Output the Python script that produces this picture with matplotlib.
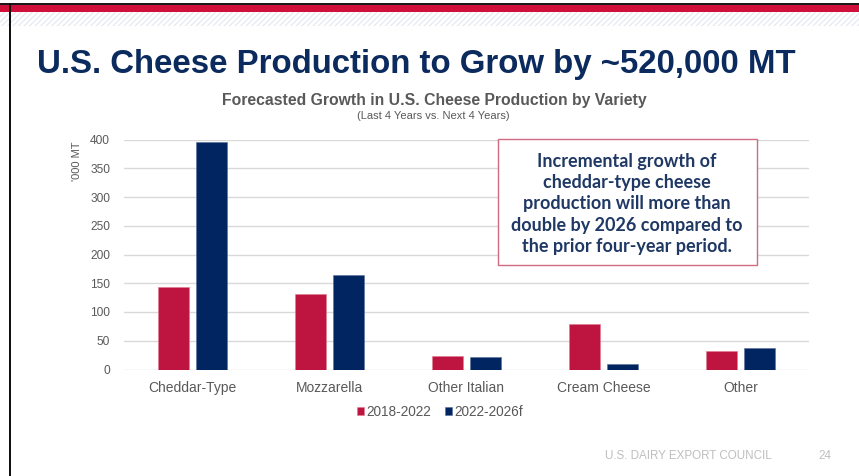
import matplotlib
matplotlib.use("Agg")
import matplotlib.pyplot as plt
from matplotlib.patches import Rectangle
import numpy as np

# Data ('000 MT)
categories = ["Cheddar-Type", "Mozzarella", "Other Italian", "Cream Cheese", "Other"]
growth_2018_2022 = [144, 131, 23, 79, 33]
growth_2022_2026f = [396, 164, 22, 9, 38]
series_labels = ["2018-2022", "2022-2026f"]
yticks = [0, 50, 100, 150, 200, 250, 300, 350, 400]

RED = "#BE1540"
NAVY = "#002560"
GRAY = "#595959"

plt.rcParams["font.family"] = ["Liberation Sans", "DejaVu Sans"]

fig = plt.figure(figsize=(8.59, 4.76), dpi=100)
W, H = 859, 476

def fx(px):
    return px / W

def fy(py):
    return 1 - py / H

# Slide header bands
fig.patches.append(Rectangle((0, fy(5)), 1, fy(3) - fy(5), transform=fig.transFigure,
                             facecolor="#1a1a1a", edgecolor="none", zorder=1))
fig.patches.append(Rectangle((0, fy(12)), 1, fy(5) - fy(12), transform=fig.transFigure,
                             facecolor="#D0103A", edgecolor="none", zorder=1))
plt.rcParams["hatch.linewidth"] = 0.8
fig.patches.append(Rectangle((0, fy(26)), 1, fy(12) - fy(26), transform=fig.transFigure,
                             facecolor="white", edgecolor="#e3e7ee", hatch="//////",
                             linewidth=0, zorder=1))
# Left border
fig.patches.append(Rectangle((fx(9), 0), fx(2), fy(3), transform=fig.transFigure,
                             facecolor="#111111", edgecolor="none", zorder=2))

# Titles
fig.text(fx(37), fy(65), "U.S. Cheese Production to Grow by ~520,000 MT",
         fontsize=23.8, fontweight="bold", color="#0B2A5E", ha="left", va="center")
fig.text(fx(434), fy(101), "Forecasted Growth in U.S. Cheese Production by Variety",
         fontsize=11.3, fontweight="bold", color=GRAY, ha="center", va="center")
fig.text(fx(433), fy(116), "(Last 4 Years vs. Next 4 Years)",
         fontsize=8.0, color=GRAY, ha="center", va="center")

# Chart
ax = fig.add_axes([fx(124), fy(369.5), fx(809) - fx(124), (369.5 - 139.5) / H])
x = np.arange(len(categories))
bw = 0.226
off = 0.142
ax.bar(x - off, growth_2018_2022, bw, color=RED, edgecolor="#e07a92", linewidth=0.4,
       label=series_labels[0], zorder=3)
ax.bar(x + off, growth_2022_2026f, bw, color=NAVY, edgecolor="#5a6f96", linewidth=0.4,
       label=series_labels[1], zorder=3)

ax.set_xlim(-0.5, len(categories) - 0.5)
ax.set_ylim(0, 400)
ax.set_yticks(yticks)
ax.set_xticks(x)
ax.set_xticklabels(categories)
ax.yaxis.grid(True, color="#d9d9d9", linewidth=1.0, zorder=0)
ax.set_axisbelow(True)
for s in ax.spines.values():
    s.set_visible(False)
ax.tick_params(axis="both", length=0, labelcolor=GRAY)
ax.tick_params(axis="x", pad=8, labelsize=10)
ax.tick_params(axis="y", pad=10, labelsize=8.6)

ax.text(-0.068, 0.905, "'000 MT", transform=ax.transAxes, rotation=90,
        fontsize=8, color=GRAY, ha="center", va="center")

# Legend
leg = fig.legend(loc="center", bbox_to_anchor=(fx(440), fy(412)), ncol=2, frameon=False,
                 fontsize=9.8, handlelength=0.5, handleheight=0.5, handletextpad=0.2,
                 columnspacing=1.0, labelcolor=GRAY)

# Callout box
fig.patches.append(Rectangle((fx(498), fy(265)), fx(757) - fx(498), fy(139) - fy(265),
                             transform=fig.transFigure, facecolor="white",
                             edgecolor="#d06a80", linewidth=1.0, zorder=5))
callout = ("Incremental growth of\ncheddar-type cheese\nproduction will more than\n"
           "double by 2026 compared to\nthe prior four-year period.")
fig.text(fx(627), fy(204), callout, fontsize=13, fontweight="bold", color="#1F3864",
         family=["Lato", "DejaVu Sans"], ha="center", va="center", linespacing=1.3,
         zorder=6)

# Footer
fig.text(fx(688), fy(456), "U.S. DAIRY EXPORT COUNCIL", fontsize=8.4, color="#bfbfbf",
         ha="center", va="center")
fig.text(fx(825), fy(456), "24", fontsize=8.4, color="#bfbfbf", ha="center", va="center")

fig.savefig("out.png", dpi=100, facecolor="white")
